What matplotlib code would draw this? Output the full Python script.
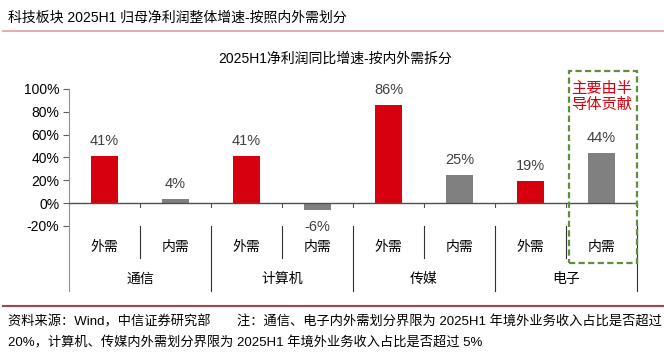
import matplotlib
matplotlib.use("Agg")
import matplotlib.pyplot as plt
from matplotlib.patches import Rectangle
from matplotlib.lines import Line2D

plt.rcParams['font.family'] = ['Liberation Sans', 'Noto Sans CJK SC', 'DejaVu Sans']

groups = ['通信', '计算机', '传媒', '电子']
subcats = ['外需', '内需', '外需', '内需', '外需', '内需', '外需', '内需']
values = [41, 4, 41, -6, 86, 25, 19, 44]
yticks = [-20, 0, 20, 40, 60, 80, 100]

RED = '#D7000F'
GREY = '#808080'
W, H = 664, 362

fig = plt.figure(figsize=(W / 100, H / 100), dpi=100)

def fx(px):
    return px / W

def fy(py):
    return 1 - py / H

ax = fig.add_axes([fx(69), fy(226), fx(637) - fx(69), fy(89) - fy(226)])
x = list(range(len(values)))
colors = [RED if i % 2 == 0 else GREY for i in x]
ax.bar(x, values, width=0.39, color=colors, zorder=2)
ax.set_xlim(-0.5, len(values) - 0.5)
ax.set_ylim(-20, 100)
ax.set_yticks(yticks)
ax.set_yticklabels([f'{v}%' for v in yticks], fontsize=10, color='#000000')
ax.tick_params(axis='y', length=4, color='#606060', pad=3)
ax.set_xticks([])
for s in ['top', 'right', 'bottom']:
    ax.spines[s].set_visible(False)
ax.spines['left'].set_color('#909090')
ax.axhline(0, color='#505050', lw=1, zorder=3)

# value labels
for xi, v in zip(x, values):
    if v >= 0:
        ax.text(xi, v + 7, f'{v}%', ha='center', va='bottom', fontsize=10.5, color='#404040')
    else:
        ax.text(xi, v - 9, f'{v}%', ha='center', va='top', fontsize=10.5, color='#404040')

# ticks at zero line
for b in [i + 0.5 for i in range(len(values) - 1)] + [len(values) - 0.5]:
    ax.add_line(Line2D([b, b], [0, -3], color='#505050', lw=0.8, clip_on=False))

# px per % : (226-89)/120
ppu = (226 - 89) / 120.0
def dy(py):
    return (203 - py) / ppu

# sub-category separators
for b in [0.5, 2.5, 4.5, 6.5]:
    ax.add_line(Line2D([b, b], [-20, dy(258)], color='#303030', lw=0.8, clip_on=False))
# group separators
for b in [-0.5, 1.5, 3.5, 5.5, 7.5]:
    c = '#909090' if b == -0.5 else '#303030'
    ax.add_line(Line2D([b, b], [-20, dy(291)], color=c, lw=0.8, clip_on=False))

for xi, s in zip(x, subcats):
    ax.text(xi, dy(247), s, ha='center', va='center', fontsize=10, color='#000000')
for gi, g in enumerate(groups):
    ax.text(2 * gi + 0.5, dy(279), g, ha='center', va='center', fontsize=10, color='#000000')

# dashed highlight box
x0 = -0.5 + (569 - 69) / ((637 - 69) / 8)
box = Rectangle((x0, dy(263)), 7.5 - x0, dy(71) - dy(263), fill=False,
                edgecolor='#5E8E3E', lw=1.6, ls=(0, (2.8, 1.5)), clip_on=False, zorder=4)
ax.add_patch(box)
ax.text(7.0, dy(97), '主要由半\n导体贡献', ha='center', va='center', fontsize=11,
        color=RED, linespacing=1.2)

# titles and header
fig.text(fx(8), fy(18), '科技板块 2025H1 归母净利润整体增速-按照内外需划分', ha='left', va='center',
         fontsize=10, color='#000000')
fig.add_artist(Line2D([fx(3), fx(664)], [fy(31), fy(31)], color='#E3AFAF', lw=1.5))
fig.text(fx(335), fy(59), '2025H1净利润同比增速-按内外需拆分', ha='center', va='center',
         fontsize=10, color='#000000')

fig.add_artist(Line2D([fx(3), fx(664)], [fy(306), fy(306)], color='#A84646', lw=1.5))
fig.text(fx(8), fy(322), '资料来源：Wind，中信证券研究部　　注：通信、电子内外需划分界限为 2025H1 年境外业务收入占比是否超过',
         ha='left', va='center', fontsize=9.5, color='#000000')
fig.text(fx(8), fy(343), '20%，计算机、传媒内外需划分界限为 2025H1 年境外业务收入占比是否超过 5%',
         ha='left', va='center', fontsize=9.5, color='#000000')

fig.savefig('out.png', dpi=100)
